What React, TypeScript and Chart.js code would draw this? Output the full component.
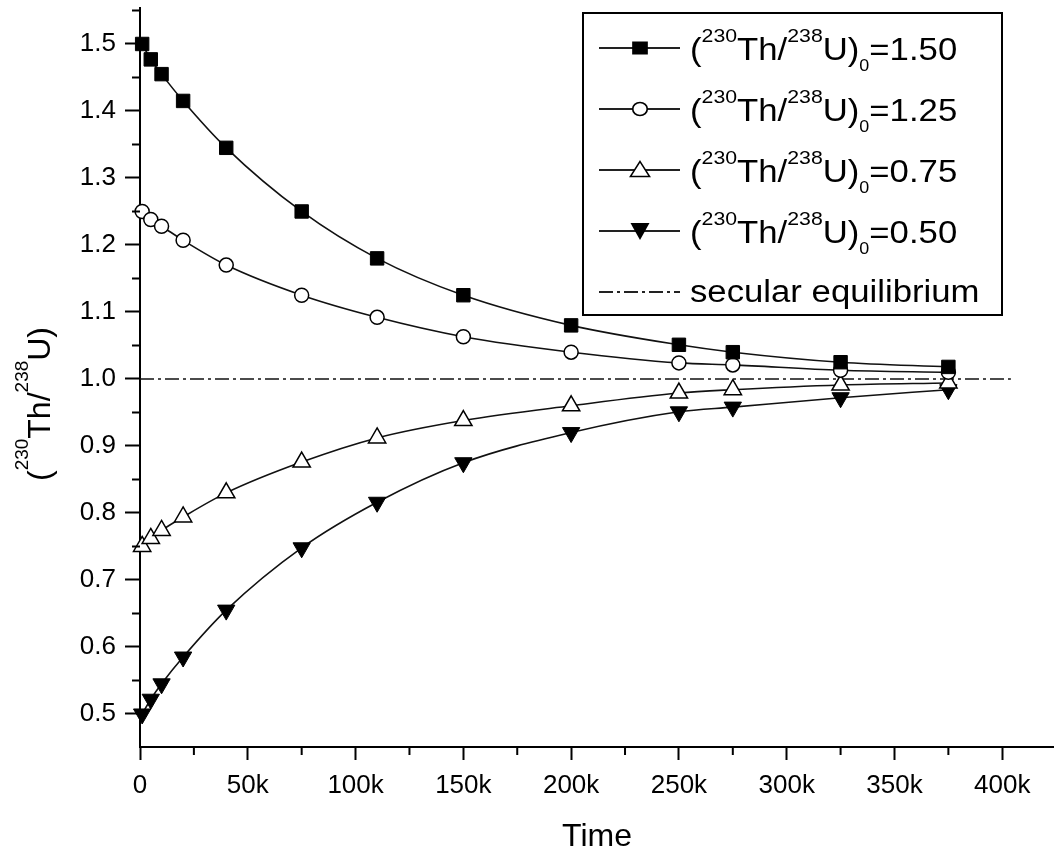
import React, { useEffect, useRef } from 'react';
import { Chart, registerables } from 'chart.js';

Chart.register(...registerables);

// ---- data ----
const timeValues = [1000, 5000, 10000, 20000, 40000, 75000, 110000, 150000, 200000, 250000, 275000, 325000, 375000];
const series150 = [1.5, 1.477, 1.455, 1.415, 1.345, 1.25, 1.18, 1.125, 1.08, 1.051, 1.04, 1.025, 1.018];
const series125 = [1.25, 1.238, 1.228, 1.207, 1.17, 1.125, 1.092, 1.063, 1.04, 1.024, 1.021, 1.013, 1.01];
const series075 = [0.75, 0.762, 0.774, 0.794, 0.83, 0.876, 0.912, 0.938, 0.96, 0.979, 0.984, 0.991, 0.994];
const series050 = [0.5, 0.522, 0.545, 0.585, 0.655, 0.748, 0.816, 0.875, 0.92, 0.951, 0.958, 0.972, 0.984];
const equilibriumX = [0, 404000];
const equilibriumY = [1, 1];

const xTicks = [0, 50000, 100000, 150000, 200000, 250000, 300000, 350000, 400000];
const xTickLabels = ['0', '50k', '100k', '150k', '200k', '250k', '300k', '350k', '400k'];
const xMinorTicks = [25000, 75000, 125000, 175000, 225000, 275000, 325000, 375000];
const yTicks = [0.5, 0.6, 0.7, 0.8, 0.9, 1.0, 1.1, 1.2, 1.3, 1.4, 1.5];
const yTickLabels = ['0.5', '0.6', '0.7', '0.8', '0.9', '1.0', '1.1', '1.2', '1.3', '1.4', '1.5'];
const yMinorTicks = [0.55, 0.65, 0.75, 0.85, 0.95, 1.05, 1.15, 1.25, 1.35, 1.45, 1.55];
const legendValues = ['1.50', '1.25', '0.75', '0.50'];
const legendMarkers = ['square', 'circle', 'tri', 'itri'];
const equilibriumLabel = 'secular equilibrium';
const xTitle = 'Time';

const FONT = '"Liberation Sans", Arial, Helvetica, sans-serif';

type Part = { t: string; k: 'n' | 'sup' | 'sub' };

function richParts(value?: string): Part[] {
  const p: Part[] = [
    { t: '(', k: 'n' },
    { t: '230', k: 'sup' },
    { t: 'Th/', k: 'n' },
    { t: '238', k: 'sup' },
    { t: 'U)', k: 'n' },
  ];
  if (value !== undefined) {
    p.push({ t: '0', k: 'sub' });
    p.push({ t: '=' + value, k: 'n' });
  }
  return p;
}

function richWidth(ctx: CanvasRenderingContext2D, parts: Part[], F: number, S: number, B: number) {
  let w = 0;
  for (const p of parts) {
    const size = p.k === 'n' ? F : p.k === 'sup' ? S : B;
    ctx.font = `${size}px ${FONT}`;
    w += ctx.measureText(p.t).width;
  }
  return w;
}

function drawRich(
  ctx: CanvasRenderingContext2D,
  parts: Part[],
  x: number,
  y: number,
  F: number,
  S: number,
  B: number,
  raise: number,
  drop: number
) {
  let cx = x;
  ctx.textBaseline = 'alphabetic';
  ctx.textAlign = 'left';
  for (const p of parts) {
    const size = p.k === 'n' ? F : p.k === 'sup' ? S : B;
    const dy = p.k === 'sup' ? -raise : p.k === 'sub' ? drop : 0;
    ctx.font = `${size}px ${FONT}`;
    ctx.fillText(p.t, cx, y + dy);
    cx += ctx.measureText(p.t).width;
  }
}

function drawMarker(ctx: CanvasRenderingContext2D, kind: string, x: number, y: number) {
  ctx.save();
  ctx.lineWidth = 1.5;
  ctx.strokeStyle = '#000';
  ctx.beginPath();
  if (kind === 'square') {
    ctx.fillStyle = '#000';
    ctx.fillRect(x - 7, y - 6.5, 14, 13);
  } else if (kind === 'circle') {
    ctx.arc(x, y, 6.5, 0, Math.PI * 2);
    ctx.fillStyle = '#fff';
    ctx.fill();
    ctx.stroke();
  } else if (kind === 'tri') {
    ctx.moveTo(x, y - 8.5);
    ctx.lineTo(x + 8.5, y + 6.5);
    ctx.lineTo(x - 8.5, y + 6.5);
    ctx.closePath();
    ctx.fillStyle = '#fff';
    ctx.fill();
    ctx.stroke();
  } else if (kind === 'itri') {
    ctx.moveTo(x - 8.5, y - 8);
    ctx.lineTo(x + 8.5, y - 8);
    ctx.lineTo(x, y + 9);
    ctx.closePath();
    ctx.fillStyle = '#000';
    ctx.fill();
  }
  ctx.restore();
}

const decorPlugin = {
  id: 'decor',
  afterDraw(chart: any) {
    const { ctx, chartArea, scales } = chart;
    const xs = scales.x;
    const ys = scales.y;
    ctx.save();
    // minor ticks
    ctx.strokeStyle = '#000';
    ctx.lineWidth = 2;
    ctx.beginPath();
    for (const v of xMinorTicks) {
      const px = xs.getPixelForValue(v);
      ctx.moveTo(px, chartArea.bottom);
      ctx.lineTo(px, chartArea.bottom + 8);
    }
    for (const v of yMinorTicks) {
      const py = ys.getPixelForValue(v);
      ctx.moveTo(chartArea.left - 8, py);
      ctx.lineTo(chartArea.left, py);
    }
    ctx.stroke();

    // y axis title (rotated, with superscripts)
    ctx.fillStyle = '#000';
    const yParts = richParts();
    const F = 32, S = 19;
    const w = richWidth(ctx, yParts, F, S, S);
    ctx.save();
    ctx.translate(50, 404);
    ctx.rotate(-Math.PI / 2);
    drawRich(ctx, yParts, -w / 2, 0, F, S, S, 22, 0);
    ctx.restore();

    // legend box
    const bx = 583, by = 13, bw = 419, bh = 302;
    ctx.fillStyle = '#fff';
    ctx.fillRect(bx, by, bw, bh);
    ctx.strokeStyle = '#000';
    ctx.lineWidth = 2;
    ctx.strokeRect(bx, by, bw, bh);

    const rowStep = 61;
    for (let i = 0; i < legendValues.length + 1; i++) {
      const ly = 48 + i * rowStep;
      const ty = 60 + i * rowStep;
      ctx.save();
      ctx.strokeStyle = '#222';
      ctx.lineWidth = 2;
      if (i === legendValues.length) ctx.setLineDash([14, 4, 3, 4]);
      ctx.beginPath();
      ctx.moveTo(599, ly);
      ctx.lineTo(680, ly);
      ctx.stroke();
      ctx.restore();
      ctx.fillStyle = '#000';
      ctx.save();
      ctx.translate(690, ty);
      ctx.scale(1.12, 1);
      if (i < legendValues.length) {
        drawMarker(ctx, legendMarkers[i], (640 - 690) / 1.12, ly - ty);
        ctx.fillStyle = '#000';
        drawRich(ctx, richParts(legendValues[i]), 0, 0, 31, 19, 16, 18, 11);
      } else {
        ctx.font = `31px ${FONT}`;
        ctx.textBaseline = 'alphabetic';
        ctx.fillText(equilibriumLabel, 0, -2);
      }
      ctx.restore();
    }
    ctx.restore();
  },
};

export default function App() {
  const ref = useRef<HTMLCanvasElement | null>(null);

  useEffect(() => {
    document.body.style.margin = '0';
    const canvas = ref.current;
    if (!canvas) return;
    Chart.defaults.font.family = FONT;
    Chart.defaults.color = '#000';

    const mk = (vals: number[]) => vals.map((v, i) => ({ x: timeValues[i], y: v }));
    const common = {
      borderColor: '#111',
      borderWidth: 1.6,
      cubicInterpolationMode: 'monotone' as const,
      clip: false as any,
      pointBorderColor: '#000',
      pointHoverRadius: 0,
    };

    const chart = new Chart(canvas, {
      type: 'line',
      data: {
        datasets: [
          {
            ...common,
            label: '1.50',
            data: mk(series150),
            pointStyle: 'rect',
            pointRadius: 9.5,
            pointBackgroundColor: '#000',
            pointBorderWidth: 1,
          },
          {
            ...common,
            label: '1.25',
            data: mk(series125),
            pointStyle: 'circle',
            pointRadius: 7,
            pointBackgroundColor: '#fff',
            pointBorderWidth: 1.5,
          },
          {
            ...common,
            label: '0.75',
            data: mk(series075),
            pointStyle: 'triangle',
            pointRadius: 10,
            pointBackgroundColor: '#fff',
            pointBorderWidth: 1.5,
          },
          {
            ...common,
            label: '0.50',
            data: mk(series050),
            pointStyle: 'triangle',
            pointRotation: 180,
            pointRadius: 10,
            pointBackgroundColor: '#000',
            pointBorderWidth: 1,
          },
          {
            label: equilibriumLabel,
            data: equilibriumX.map((x, i) => ({ x, y: equilibriumY[i] })),
            borderColor: '#111',
            borderWidth: 1.6,
            borderDash: [14, 4, 3, 4],
            pointRadius: 0,
            clip: false as any,
          },
        ],
      },
      options: {
        animation: false,
        responsive: false,
        devicePixelRatio: 1,
        events: [],
        layout: { autoPadding: false, padding: { top: 8, left: 0, right: 0, bottom: 0 } },
        plugins: { legend: { display: false }, tooltip: { enabled: false } },
        scales: {
          x: {
            type: 'linear',
            min: 0,
            max: 424000,
            afterBuildTicks: (s: any) => {
              s.ticks = xTicks.map((v) => ({ value: v }));
            },
            afterFit: (s: any) => {
              s.height = 112;
              s.paddingLeft = 0;
              s.paddingRight = 0;
            },
            ticks: {
              autoSkip: false,
              maxRotation: 0,
              padding: 10,
              color: '#000',
              font: { size: 26 },
              callback: (_v: any, i: number) => xTickLabels[i],
            },
            grid: { drawOnChartArea: false, drawTicks: true, tickLength: 13, tickColor: '#000', tickWidth: 2 },
            border: { display: true, color: '#000', width: 2 },
            title: { display: true, text: xTitle, color: '#000', font: { size: 32 }, padding: { top: 0, bottom: 3 } },
          },
          y: {
            type: 'linear',
            min: 0.4507,
            max: 1.5537,
            afterBuildTicks: (s: any) => {
              s.ticks = yTicks.map((v) => ({ value: v }));
            },
            afterFit: (s: any) => {
              s.width = 140;
              s.paddingTop = 0;
              s.paddingBottom = 0;
            },
            ticks: {
              autoSkip: false,
              padding: 9,
              color: '#000',
              font: { size: 26 },
              callback: (_v: any, i: number) => yTickLabels[i],
            },
            grid: { drawOnChartArea: false, drawTicks: true, tickLength: 15, tickColor: '#000', tickWidth: 2 },
            border: { display: true, color: '#000', width: 2 },
          },
        },
      },
      plugins: [decorPlugin],
    } as any);

    return () => chart.destroy();
  }, []);

  return (
    <div style={{ width: 1054, height: 859 }}>
      <canvas ref={ref} width={1054} height={859} style={{ display: 'block' }} />
    </div>
  );
}
